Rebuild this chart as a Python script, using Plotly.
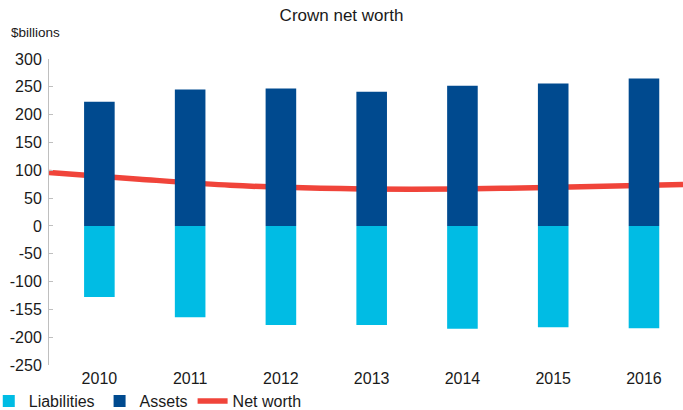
import plotly.graph_objects as go

# Crown balance sheet, $billions
years = ["2010", "2011", "2012", "2013", "2014", "2015", "2016"]
assets = [223, 245, 247, 241, 252, 256, 265]
liabilities = [-128, -164, -178, -178, -185, -182, -184]

# Net worth series runs edge to edge across the plot (8 points)
net_worth_pos = [0, 1, 2, 3, 4, 5, 6, 7]
net_worth = [96, 84, 73, 67.5, 66, 67.5, 71, 74.5]

# Y-axis tick marks and their labels
y_ticks = [300, 250, 200, 150, 100, 50, 0, -50, -100, -150, -200, -250]
y_tick_text = ["300", "250", "200", "150", "100", "50", "0", "-50", "-100", "-155", "-200", "-250"]

FONT = "Liberation Sans, Arial, sans-serif"
TEXT = "#1a1a1a"
DARK_BLUE = "#004A8F"
CYAN = "#00BCE4"
RED = "#F0443A"

fig = go.Figure()

# Line sits on the lower axis layer so the bars are drawn over it
fig.add_trace(go.Scatter(
    x=net_worth_pos, y=net_worth, name="Net worth", mode="lines",
    line=dict(color=RED, width=5.5, shape="spline", smoothing=0.8),
    xaxis="x", yaxis="y", legendrank=3,
))
fig.add_trace(go.Bar(
    x=years, y=liabilities, name="Liabilities", marker_color=CYAN,
    marker_line_width=0, xaxis="x2", yaxis="y", legendrank=1,
))
fig.add_trace(go.Bar(
    x=years, y=assets, name="Assets", marker_color=DARK_BLUE,
    marker_line_width=0, xaxis="x2", yaxis="y", legendrank=2,
))

fig.update_layout(
    width=683, height=410,
    margin=dict(l=49, r=0, t=59, b=45, autoexpand=False),
    plot_bgcolor="white", paper_bgcolor="white",
    font=dict(family=FONT, size=16, color=TEXT),
    barmode="relative", bargap=0.663,
    title=dict(text="Crown net worth", x=0.5, xanchor="center", y=0.963, yanchor="middle",
               font=dict(family=FONT, size=17, color=TEXT)),
    xaxis=dict(range=[0, 7], visible=False, fixedrange=True),
    xaxis2=dict(overlaying="x", side="bottom", anchor="y", type="category",
                range=[-0.555, 6.43], showline=False, showgrid=False, ticks="",
                tickfont=dict(family=FONT, size=16, color=TEXT),
                ticklabelstandoff=2),
    yaxis=dict(range=[-250, 300], tickvals=y_ticks, ticktext=y_tick_text,
               showgrid=False, zeroline=False, showline=True, linecolor="#BFBFBF",
               linewidth=1, ticks="inside", ticklen=4, tickcolor="#BFBFBF",
               tickfont=dict(family=FONT, size=16, color=TEXT),
               ticklabelstandoff=3),
    legend=dict(orientation="h", x=-0.095, xanchor="left",
                yref="paper", y=-0.118, yanchor="middle",
                font=dict(family=FONT, size=16, color=TEXT),
                itemwidth=30, tracegroupgap=0, bgcolor="rgba(0,0,0,0)"),
    annotations=[dict(text="$billions", xref="paper", yref="paper", x=-0.063, y=1.085,
                      xanchor="left", yanchor="middle", showarrow=False,
                      font=dict(family=FONT, size=13.5, color=TEXT))],
)

fig.write_html("out.html")
